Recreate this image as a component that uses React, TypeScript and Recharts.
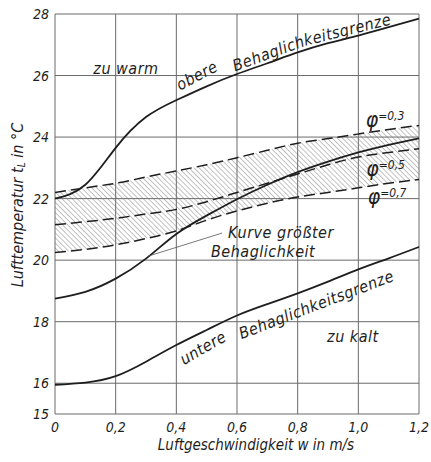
import React from 'react';
import {
  ComposedChart,
  Line,
  Area,
  XAxis,
  YAxis,
  CartesianGrid,
  ReferenceDot,
  ReferenceLine,
} from 'recharts';

// Luftgeschwindigkeit in m/s
const X = [0, 0.1, 0.2, 0.3, 0.4, 0.5, 0.6, 0.7, 0.8, 0.9, 1.0, 1.1, 1.2];
// Lufttemperatur in °C
const OBERE = [22.0, 22.45, 23.65, 24.65, 25.2, 25.65, 26.05, 26.4, 26.75, 27.05, 27.3, 27.57, 27.85];
const KURVE = [18.75, 18.97, 19.4, 20.05, 20.85, 21.45, 21.98, 22.45, 22.86, 23.2, 23.5, 23.75, 23.96];
const UNTERE = [15.95, 16.02, 16.23, 16.7, 17.24, 17.73, 18.2, 18.57, 18.92, 19.3, 19.7, 20.06, 20.43];
const PHI03 = [22.2, 22.35, 22.5, 22.7, 22.9, 23.1, 23.33, 23.57, 23.8, 23.95, 24.1, 24.25, 24.38];
const PHI05 = [21.15, 21.25, 21.36, 21.5, 21.65, 21.9, 22.2, 22.5, 22.8, 23.1, 23.35, 23.5, 23.62];
const PHI07 = [20.25, 20.35, 20.5, 20.7, 20.95, 21.3, 21.6, 21.85, 22.05, 22.2, 22.35, 22.5, 22.62];

const X_TICKS = [0, 0.2, 0.4, 0.6, 0.8, 1.0, 1.2];
const Y_TICKS = [15, 16, 18, 20, 22, 24, 26, 28];

// text along the curves: [text, x, y, angle, anchor]
const CURVE_TEXT: [string, number, number, number, string][] = [
  ['zu warm', 0.234, 26.23, 0, 'middle'],
  ['obere', 0.468, 26.0, -28, 'middle'],
  ['Behaglich', 0.821, 27.14, -20, 'end'],
  ['keitsgrenze', 0.821, 27.14, -14, 'start'],
  ['Kurve größter', 0.745, 20.91, 0, 'middle'],
  ['Behaglichkeit', 0.686, 20.29, 0, 'middle'],
  ['untere', 0.488, 17.15, -30, 'middle'],
  ['Behaglich', 0.84, 18.47, -21, 'end'],
  ['keitsgrenze', 0.84, 18.47, -21, 'start'],
  ['zu kalt', 0.982, 17.53, 0, 'middle'],
];
const PHI_TEXT: [string, number, number][] = [
  ['0,3', 1.088, 24.55],
  ['0,5', 1.09, 22.95],
  ['0,7', 1.095, 22.05],
];

const FONT = "'DejaVu Sans Condensed', 'DejaVu Sans', sans-serif";
const INK = '#1e1e1e';

const rows = X.map((x, i) => ({
  x,
  obere: OBERE[i],
  kurve: KURVE[i],
  untere: UNTERE[i],
  p3: PHI03[i],
  p5: PHI05[i],
  p7: PHI07[i],
}));

const fmt = (v: number) => (v === 0 ? '0' : v.toFixed(1).replace('.', ','));

const YTitle = (props: any) => {
  const { x, y, height } = props.viewBox;
  const cx = x + 17;
  const cy = y + height / 2 - 9;
  return (
    <text
      x={cx}
      y={cy}
      transform={`rotate(-90 ${cx} ${cy})`}
      textAnchor="middle"
      dominantBaseline="central"
      fontFamily={FONT}
      fontStyle="italic"
      fontSize={16}
      fill={INK}
    >
      Lufttemperatur t<tspan fontSize={10} dy={4}>L</tspan>
      <tspan dy={-4}> in °C</tspan>
    </text>
  );
};

const XTitle = (props: any) => {
  const { x, y, width } = props.viewBox;
  return (
    <text
      x={x + width / 2 + 19}
      y={y + 36}
      textAnchor="middle"
      fontFamily={FONT}
      fontStyle="italic"
      fontSize={15}
      fill={INK}
    >
      Luftgeschwindigkeit w in m/s
    </text>
  );
};

export default function App() {
  return (
    <div style={{ position: 'absolute', left: 0, top: 0, background: '#fff' }}>
      <ComposedChart width={431} height={462} data={rows} margin={{ top: 14, right: 12, bottom: 0, left: 0 }}>
        <defs>
          <pattern id="hatch" width={3.6} height={3.6} patternUnits="userSpaceOnUse" patternTransform="rotate(-45)">
            <line x1={0} y1={0} x2={0} y2={3.6} stroke="#777" strokeWidth={0.9} />
          </pattern>
        </defs>
        <CartesianGrid stroke="#6a6a6a" strokeWidth={1} />
        <XAxis
          dataKey="x"
          type="number"
          domain={[0, 1.2]}
          ticks={X_TICKS}
          tickFormatter={fmt}
          height={48}
          axisLine={false}
          tickLine={false}
          tickMargin={2}
          tick={{ fontFamily: FONT, fontStyle: 'italic', fontSize: 14, fill: INK }}
          label={<XTitle />}
        />
        <YAxis
          type="number"
          domain={[15, 28]}
          ticks={Y_TICKS}
          width={55}
          axisLine={false}
          tickLine={false}
          tickMargin={0}
          tick={{ fontFamily: FONT, fontStyle: 'italic', fontSize: 14, fill: INK }}
          label={<YTitle />}
        />
        <Area
          type="natural"
          dataKey={(d: any) => [d.p7, d.p3]}
          stroke="none"
          fill="url(#hatch)"
          fillOpacity={1}
          isAnimationActive={false}
        />
        <Line type="natural" dataKey="p3" stroke={INK} strokeWidth={1.5} strokeDasharray="11 5" dot={false} isAnimationActive={false} />
        <Line type="natural" dataKey="p5" stroke={INK} strokeWidth={1.5} strokeDasharray="11 5" dot={false} isAnimationActive={false} />
        <Line type="natural" dataKey="p7" stroke={INK} strokeWidth={1.5} strokeDasharray="11 5" dot={false} isAnimationActive={false} />
        <Line type="natural" dataKey="obere" stroke={INK} strokeWidth={1.8} dot={false} isAnimationActive={false} />
        <Line type="natural" dataKey="kurve" stroke={INK} strokeWidth={1.8} dot={false} isAnimationActive={false} />
        <Line type="natural" dataKey="untere" stroke={INK} strokeWidth={1.8} dot={false} isAnimationActive={false} />
        <ReferenceLine
          segment={[
            { x: 0.307, y: 20.13 },
            { x: 0.551, y: 20.88 },
          ]}
          stroke="#555"
          strokeWidth={0.8}
        />
        {CURVE_TEXT.map(([t, x, y, a, anchor], i) => (
          <ReferenceDot
            key={'c' + i}
            x={x}
            y={y}
            r={0}
            shape={(p: any) => (
              <text
                x={p.cx}
                y={p.cy}
                transform={`rotate(${a} ${p.cx} ${p.cy})`}
                textAnchor={anchor}
                dominantBaseline="central"
                fontFamily={FONT}
                fontStyle="italic"
                fontSize={16}
                letterSpacing={0.5}
                fill={INK}
              >
                {t}
              </text>
            )}
          />
        ))}
        {PHI_TEXT.map(([t, x, y], i) => (
          <ReferenceDot
            key={'p' + i}
            x={x}
            y={y}
            r={0}
            shape={(p: any) => (
              <text
                x={p.cx}
                y={p.cy}
                textAnchor="middle"
                dominantBaseline="central"
                fontFamily={FONT}
                fontStyle="italic"
                fill={INK}
              >
                <tspan fontSize={21}>φ</tspan>
                <tspan fontSize={12} dy={-4}>={t}</tspan>
              </text>
            )}
          />
        ))}
      </ComposedChart>
    </div>
  );
}
